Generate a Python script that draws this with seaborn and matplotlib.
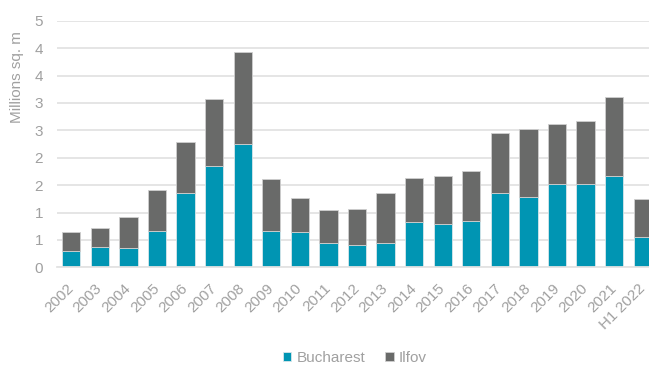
import matplotlib
matplotlib.use("Agg")
import matplotlib.pyplot as plt
import seaborn as sns
import pandas as pd
import numpy as np
from matplotlib.ticker import FixedLocator, FixedFormatter

years = ["2002", "2003", "2004", "2005", "2006", "2007", "2008", "2009", "2010", "2011",
         "2012", "2013", "2014", "2015", "2016", "2017", "2018", "2019", "2020", "2021", "H1 2022"]
bucharest = [0.29, 0.365, 0.35, 0.66, 1.36, 1.85, 2.25, 0.66, 0.645, 0.44,
             0.40, 0.44, 0.82, 0.785, 0.84, 1.355, 1.28, 1.515, 1.52, 1.665, 0.55]
totals = [0.645, 0.725, 0.91, 1.41, 2.28, 3.08, 3.925, 1.605, 1.26, 1.04,
          1.06, 1.35, 1.625, 1.665, 1.75, 2.45, 2.525, 2.61, 2.665, 3.10, 1.24]
ilfov = [round(t - b, 3) for t, b in zip(totals, bucharest)]

ytick_vals = [0, 0.5, 1, 1.5, 2, 2.5, 3, 3.5, 4, 4.5]
ytick_labels = ["0", "1", "1", "2", "2", "3", "3", "4", "4", "5"]

sns.set_theme(style="white")
plt.rcParams['font.family'] = ['Liberation Sans', 'DejaVu Sans']

c_buc = "#0095b3"
c_ilf = "#696a69"
txt = "#a0a0a0"

df = pd.DataFrame({"year": years, "Bucharest": bucharest, "Ilfov": ilfov})

fig = plt.figure(figsize=(6.49, 3.67), dpi=100)
ax = fig.add_axes([57/649, 1 - 267.3/367, 600/649, (267.3 - 20.7)/367])

sns.barplot(data=df, x="year", y="Bucharest", color=c_buc, width=0.64, ax=ax,
            edgecolor="#d8e6ea", linewidth=0.6, label="Bucharest", saturation=1)
sns.barplot(data=df, x="year", y="Ilfov", bottom=df["Bucharest"], color=c_ilf, width=0.64, ax=ax,
            edgecolor="#cfcfcf", linewidth=0.6, label="Ilfov", saturation=1)

ax.set_xlim(-0.5, len(years) - 0.5)
ax.set_ylim(0, 4.5)
ax.yaxis.set_major_locator(FixedLocator(ytick_vals))
ax.yaxis.set_major_formatter(FixedFormatter(ytick_labels))
ax.grid(axis="y", color="#e3e3e3", linewidth=1.3)
ax.set_axisbelow(True)
for s in ["top", "right", "left"]:
    ax.spines[s].set_visible(False)
ax.spines["bottom"].set_color("#e3e3e3")
ax.spines["bottom"].set_linewidth(1.3)

ax.tick_params(axis="y", colors=txt, labelsize=11, length=0, pad=10)
ax.tick_params(axis="x", colors=txt, labelsize=11, length=0, pad=13.5)
for lab in ax.get_xticklabels():
    lab.set_rotation(45)
    lab.set_ha("right")
    lab.set_va("center")
    lab.set_rotation_mode("anchor")
ax.set_xlabel("")
ax.set_ylabel("")
fig.text(17.5/649, 1 - 77/367, "Millions sq. m", rotation=90, color=txt, fontsize=11,
         ha="center", va="center")

handles, labels = ax.get_legend_handles_labels()
leg = fig.legend(handles, labels, loc="center", bbox_to_anchor=(355/649, 1 - 358/367),
                 ncol=2, frameon=False, fontsize=11, handlelength=0.55, handleheight=0.55,
                 handletextpad=0.35, columnspacing=1.3, labelcolor=txt)
if ax.get_legend():
    ax.get_legend().remove()

fig.savefig("out.png", dpi=100)
